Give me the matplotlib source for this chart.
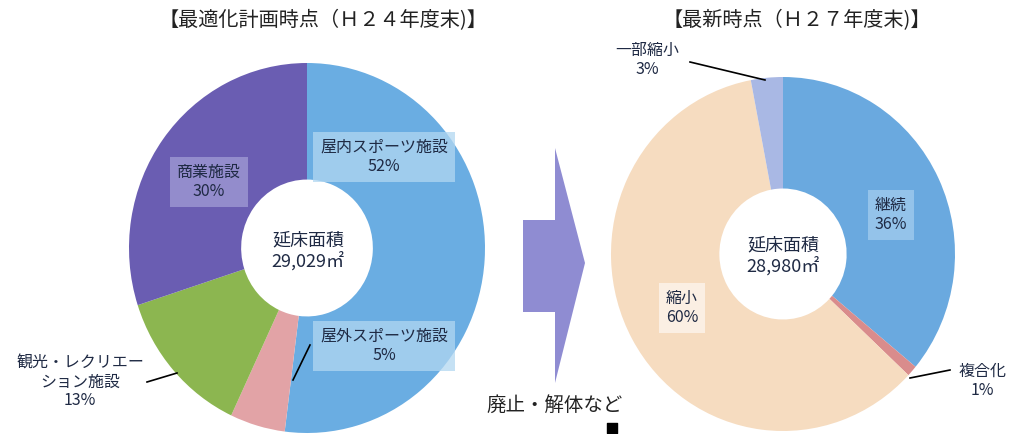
"""Two donut charts: floor area by facility type (H24) and by plan status (H27)."""

import matplotlib
import matplotlib.pyplot as plt
from matplotlib.patches import Polygon

matplotlib.use("Agg")
plt.rcParams["font.family"] = ["Noto Sans CJK JP", "DejaVu Sans"]

W, H = 1011, 434

# ---------------------------------------------------------------------------
# Data
# ---------------------------------------------------------------------------
left_title = "【最適化計画時点（Ｈ２４年度末)】"
left_labels = ["屋内スポーツ施設", "屋外スポーツ施設", "観光・レクリエー\nション施設", "商業施設"]
left_values = [52, 5, 13, 30]
left_colors = ["#6aade2", "#e2a3a6", "#8cb650", "#6a5db2"]
left_total = "29,029㎡"

right_title = "【最新時点（Ｈ２７年度末)】"
right_labels = ["継続", "複合化", "縮小", "一部縮小"]
right_values = [36, 1, 60, 3]
right_colors = ["#6aa9df", "#d98c8c", "#f6dcc0", "#a9b8e4"]
right_total = "28,980㎡"

arrow_text = "廃止・解体など"
text_color = "#1f2a44"


def donut(fig, cx, cy, rx, ry, values, colors):
    """Place a donut axes whose box spans the given pixel ellipse."""
    ax = fig.add_axes([(cx - rx) / W, 1 - (cy + ry) / H, 2 * rx / W, 2 * ry / H])
    ax.pie(
        values, colors=colors, startangle=90, counterclock=False,
        wedgeprops={"width": 0.63, "linewidth": 0},
    )
    ax.set_aspect("auto")
    ax.set_xlim(-1, 1)
    ax.set_ylim(-1, 1)
    ax.axis("off")
    return ax


fig = plt.figure(figsize=(W / 100, H / 100), dpi=100)
fig.patch.set_facecolor("white")

donut(fig, 307, 248, 178, 185, left_values, left_colors)
donut(fig, 783, 254, 172, 177, right_values, right_colors)

# Overlay axes in pixel coordinates for titles, labels and the arrow.
bg = fig.add_axes([0, 0, 1, 1])
bg.set_xlim(0, W)
bg.set_ylim(H, 0)
bg.patch.set_alpha(0)
bg.axis("off")

fs_lab = 11.5


def label(x, y, s, face=None, fs=fs_lab, pad=0.35, alpha=0.75):
    box = None
    if face:
        box = {"boxstyle": f"square,pad={pad}", "facecolor": face, "edgecolor": "none", "alpha": alpha}
    bg.text(x, y, s, ha="center", va="center", fontsize=fs, color=text_color,
            linespacing=1.15, bbox=box, zorder=5)


# Titles
bg.text(323, 21, left_title, ha="center", va="center", fontsize=14.5, color="#222222")
bg.text(797, 21, right_title, ha="center", va="center", fontsize=14.5, color="#222222")

# Left donut labels
label(384, 157, f"{left_labels[0]}\n{left_values[0]}%", face="#b2d7f1", pad=0.45)
label(384, 346, f"{left_labels[1]}\n{left_values[1]}%", face="#b2d7f1", pad=0.45)
label(209, 182, f"{left_labels[3]}\n{left_values[3]}%", face="#a29cd6", pad=0.45)
label(80, 382, f"{left_labels[2]}\n{left_values[2]}%")
label(308, 251, f"延床面積\n{left_total}", fs=13)
bg.plot([147, 177], [382, 373], color="black", lw=1.2, zorder=6)
bg.plot([293, 310], [380, 345], color="black", lw=1.2, zorder=6)

# Right donut labels
label(891, 215, f"{right_labels[0]}\n{right_values[0]}%", face="#a3cdee", pad=0.45)
label(682, 308, f"{right_labels[2]}\n{right_values[2]}%", face="#fcf2e7", pad=0.45, alpha=0.9)
label(647, 60, f"{right_labels[3]}\n{right_values[3]}%")
label(982, 381, f"{right_labels[1]}\n{right_values[1]}%")
label(783, 256, f"延床面積\n{right_total}", fs=13)
bg.plot([690, 765], [62, 80], color="black", lw=1.2, zorder=6)
bg.plot([910, 950], [378, 370], color="black", lw=1.2, zorder=6)

# Transition arrow
arrow = Polygon(
    [(523, 220), (555, 220), (555, 148), (585, 263), (555, 383), (555, 312), (523, 312)],
    closed=True, facecolor="#8f8cd2", edgecolor="none",
)
bg.add_patch(arrow)
bg.text(555, 405, arrow_text, ha="center", va="center", fontsize=14, color="#222222")
bg.scatter([612], [428], marker="s", s=50, color="black")

fig.savefig("out.png", dpi=100, facecolor=fig.get_facecolor())
plt.close(fig)
